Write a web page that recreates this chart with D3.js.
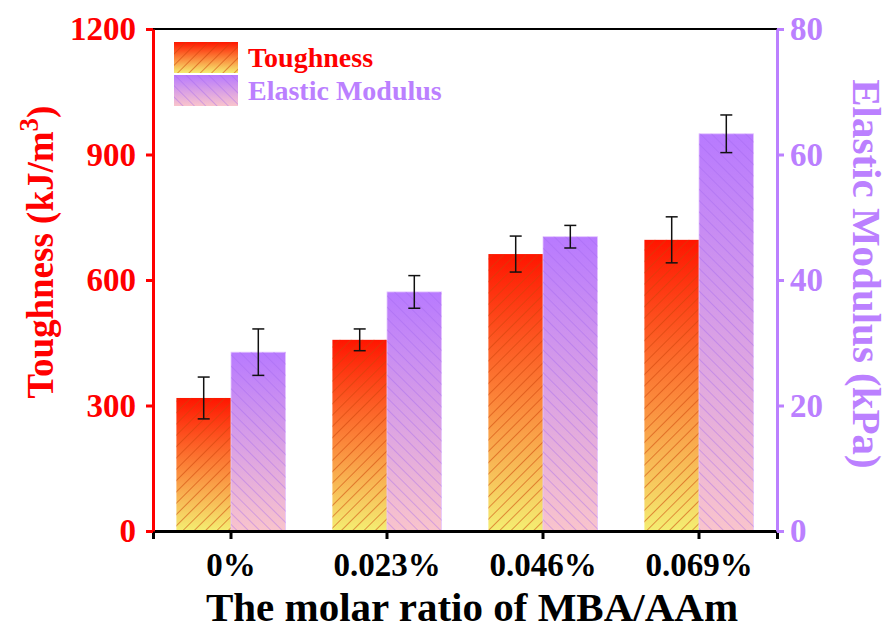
<!DOCTYPE html>
<html>
<head>
<meta charset="utf-8">
<script src="https://cdn.jsdelivr.net/npm/d3@7"></script>
<style>
  html, body { margin: 0; padding: 0; background: #fff; }
  svg text { font-family: "Liberation Serif", "Times New Roman", serif; font-weight: bold; }
</style>
</head>
<body>
<svg id="chart" width="889" height="630"></svg>
<script>
// Crosslinker ratio categories
const categories = ["0%", "0.023%", "0.046%", "0.069%"];
// Toughness (kJ/m3) means and standard deviations
const toughness = [318, 457, 662, 696];
const toughnessErr = [50, 26, 43, 55];
// Elastic modulus (kPa) means and standard deviations
const modulus = [28.5, 38.1, 46.9, 63.3];
const modulusErr = [3.7, 2.6, 1.8, 3.0];
// Axis ticks
const leftTicks = [0, 300, 600, 900, 1200];
const rightTicks = [0, 20, 40, 60, 80];

const RED = "#ff0000";
const PURPLE = "#bb80ff";

const svg = d3.select("#chart");
const m = { left: 153, right: 777, top: 29, bottom: 531 };

const x = d3.scaleBand().domain(categories).range([m.left, m.right]).paddingInner(0.3).paddingOuter(0.15);
const yL = d3.scaleLinear().domain([0, 1200]).range([m.bottom, m.top]);
const yR = d3.scaleLinear().domain([0, 80]).range([m.bottom, m.top]);
const barW = x.bandwidth() / 2;

const defs = svg.append("defs");
// Gradient fills
const gRed = defs.append("linearGradient").attr("id", "gradRed").attr("x1", 0).attr("y1", 0).attr("x2", 0).attr("y2", 1);
gRed.append("stop").attr("offset", "0%").attr("stop-color", "#ff1500");
gRed.append("stop").attr("offset", "55%").attr("stop-color", "#fb8a3c");
gRed.append("stop").attr("offset", "100%").attr("stop-color", "#f4ee72");
const gPur = defs.append("linearGradient").attr("id", "gradPur").attr("x1", 0).attr("y1", 0).attr("x2", 0).attr("y2", 1);
gPur.append("stop").attr("offset", "0%").attr("stop-color", "#b87aff");
gPur.append("stop").attr("offset", "100%").attr("stop-color", "#f9c4cc");
// Hatch patterns
const hs = 8;
const pRed = defs.append("pattern").attr("id", "hatchRed").attr("patternUnits", "userSpaceOnUse")
  .attr("width", hs).attr("height", hs).attr("patternTransform", "rotate(45)");
pRed.append("line").attr("x1", 0).attr("y1", 0).attr("x2", 0).attr("y2", hs)
  .attr("stroke", "#cc4208").attr("stroke-width", 1.2).attr("opacity", 0.9);
const pPur = defs.append("pattern").attr("id", "hatchPur").attr("patternUnits", "userSpaceOnUse")
  .attr("width", hs).attr("height", hs).attr("patternTransform", "rotate(-45)");
pPur.append("line").attr("x1", 0).attr("y1", 0).attr("x2", 0).attr("y2", hs)
  .attr("stroke", "#a264ee").attr("stroke-width", 1.1).attr("opacity", 0.75);

// Bars
const tData = categories.map((c, i) => ({ c, v: toughness[i], e: toughnessErr[i] }));
const mData = categories.map((c, i) => ({ c, v: modulus[i], e: modulusErr[i] }));

function drawBars(data, xOff, y, grad, hatch, stroke) {
  const g = svg.append("g");
  g.selectAll("rect.fill").data(data).join("rect")
    .attr("x", d => x(d.c) + xOff).attr("width", barW)
    .attr("y", d => y(d.v)).attr("height", d => y(0) - y(d.v))
    .attr("fill", grad).attr("stroke", stroke).attr("stroke-width", 0.8);
  g.selectAll("rect.hatch").data(data).join("rect")
    .attr("x", d => x(d.c) + xOff).attr("width", barW)
    .attr("y", d => y(d.v)).attr("height", d => y(0) - y(d.v))
    .attr("fill", hatch);
  // Error bars
  const cx = d => x(d.c) + xOff + barW / 2;
  g.selectAll("line.v").data(data).join("line")
    .attr("x1", cx).attr("x2", cx).attr("y1", d => y(d.v + d.e)).attr("y2", d => y(d.v - d.e))
    .attr("stroke", "#111").attr("stroke-width", 1.5);
  [1, -1].forEach(s => {
    g.selectAll("line.c" + s).data(data).join("line")
      .attr("x1", d => cx(d) - 6).attr("x2", d => cx(d) + 6)
      .attr("y1", d => y(d.v + s * d.e)).attr("y2", d => y(d.v + s * d.e))
      .attr("stroke", "#111").attr("stroke-width", 1.5);
  });
}
drawBars(tData, 0, yL, "url(#gradRed)", "url(#hatchRed)", "none");
drawBars(mData, barW, yR, "url(#gradPur)", "url(#hatchPur)", "#e6c8ff");

// Frame top line
svg.append("line").attr("x1", m.left).attr("x2", m.right).attr("y1", m.top).attr("y2", m.top)
  .attr("stroke", "#000").attr("stroke-width", 2);

function styleTicks(sel, color) {
  sel.selectAll(".tick text").attr("fill", color).style("font-size", "33px");
}

// Bottom axis
const xAxis = svg.append("g").attr("transform", `translate(0,${m.bottom})`)
  .call(d3.axisBottom(x).tickSize(8).tickPadding(14));
xAxis.select(".domain").attr("stroke", "#000").attr("stroke-width", 3);
xAxis.selectAll(".tick line").attr("stroke", "#000").attr("stroke-width", 3);
styleTicks(xAxis, "#000");

// Left axis
const lAxis = svg.append("g").attr("transform", `translate(${m.left},0)`)
  .call(d3.axisLeft(yL).tickValues(leftTicks).tickFormat(d3.format("d")).tickSize(7).tickPadding(10).tickSizeOuter(0));
lAxis.select(".domain").attr("stroke", RED).attr("stroke-width", 3);
lAxis.selectAll(".tick line").attr("stroke", RED).attr("stroke-width", 3);
styleTicks(lAxis, RED);

// Right axis
const rAxis = svg.append("g").attr("transform", `translate(${m.right},0)`)
  .call(d3.axisRight(yR).tickValues(rightTicks).tickSize(7).tickPadding(6).tickSizeOuter(0));
rAxis.select(".domain").attr("stroke", PURPLE).attr("stroke-width", 3);
rAxis.selectAll(".tick line").attr("stroke", PURPLE).attr("stroke-width", 3);
styleTicks(rAxis, PURPLE);

// Axis titles
const lt = svg.append("text").attr("transform", `translate(53,252) rotate(-90)`)
  .attr("text-anchor", "middle").attr("fill", RED).style("font-size", "37px");
lt.append("tspan").text("Toughness (kJ/m");
lt.append("tspan").text("3").attr("dy", -15).style("font-size", "27px");
lt.append("tspan").text(")").attr("dy", 15);

svg.append("text").attr("transform", `translate(853,274) rotate(90)`)
  .attr("text-anchor", "middle").attr("fill", PURPLE).style("font-size", "41px")
  .text("Elastic Modulus (kPa)");

svg.append("text").attr("x", 472).attr("y", 621)
  .attr("text-anchor", "middle").attr("fill", "#000").style("font-size", "41px")
  .text("The molar ratio of MBA/AAm");

// Legend
const legend = [
  { name: "Toughness", grad: "url(#gradRed)", hatch: "url(#hatchRed)", color: RED },
  { name: "Elastic Modulus", grad: "url(#gradPur)", hatch: "url(#hatchPur)", color: PURPLE }
];
const lg = svg.append("g").attr("transform", "translate(174,42)");
legend.forEach((d, i) => {
  const row = lg.append("g").attr("transform", `translate(0,${i * 33})`);
  row.append("rect").attr("width", 64).attr("height", 31).attr("fill", d.grad);
  row.append("rect").attr("width", 64).attr("height", 31).attr("fill", d.hatch);
  row.append("text").attr("x", 74).attr("y", 25).attr("fill", d.color).style("font-size", "28px").text(d.name);
});
</script>
</body>
</html>
